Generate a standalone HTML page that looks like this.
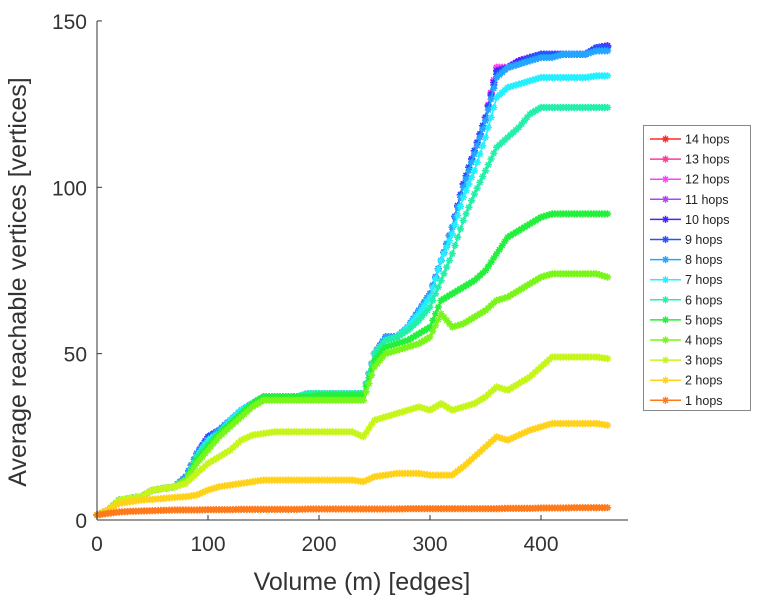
<!DOCTYPE html>
<html><head><meta charset="utf-8"><style>
body{margin:0;background:#fff;}
svg{display:block;font-family:"Liberation Sans",sans-serif;}
</style></head><body>
<svg id="chart" width="766" height="600" viewBox="0 0 766 600"></svg>
<script>
const xs=[0,10,20,30,40,50,60,70,80,90,100,110,120,130,140,150,160,170,180,190,200,210,220,230,240,250,260,270,280,290,300,310,320,330,340,350,360,370,380,390,400,410,420,430,440,450,460];
const seriesNames=["1 hops","2 hops","3 hops","4 hops","5 hops","6 hops","7 hops","8 hops","9 hops","10 hops","11 hops","12 hops","13 hops","14 hops"];
const s1=[1.5,2,2.4,2.6,2.7,2.8,2.9,3,3,3,3.1,3.1,3.1,3.2,3.2,3.2,3.2,3.2,3.2,3.3,3.3,3.3,3.3,3.3,3.3,3.3,3.3,3.3,3.4,3.4,3.4,3.4,3.4,3.4,3.4,3.4,3.4,3.5,3.5,3.5,3.6,3.6,3.6,3.7,3.7,3.7,3.7];
const s2=[1.5,3,5,5.5,6,6.2,6.5,6.8,7,7.5,9,10,10.5,11,11.5,12,12,12,12,12,12,12,12,12,11.5,13,13.5,14,14,14,13.5,13.5,13.5,16,19,22,25,24,25.5,27,28,29,29,29,29,29,28.5];
const s3=[1.5,3,6,6.5,7,9,9.5,10,11,14,17,19,21,24,25.5,26,26.5,26.5,26.5,26.5,26.5,26.5,26.5,26.5,25,30,31,32,33,34,33,35,33,34,35,37,40,39,41,43,46,49,49,49,49,49,48.5];
const s4=[1.5,3,6,6.5,7,9,9.5,10,12,17,21,25,28,31,34,36,36,36,36,36,36,36,36,36,36,46,50,51,52,53,55,62,58,59,61,63,66,67,69,71,73,74,74,74,74,74,73];
const s5=[1.5,3,6,6.5,7,9,9.5,10,12,18,22,26,29,32,35,37,37,37,37,37,37.5,37.5,37.5,37.5,37.5,48,52,53,54,56,58,66,68,70,72,75,80,85,87,89,91,92,92,92,92,92,92];
const s6=[1.5,3,6,6.5,7,9,9.5,10,12,19,23,26,29,32,35,37,37,37,37,38,38,38,38,38,38,50,54,55,57,60,64,72,80,90,98,105,112,115,118,122,124,124,124,124,124,124,124];
const s7=[1.5,3,6,6.5,7,9,9.5,10,12,19,24,26,30,33,35,37,37,37,37,38,38,38,38,38,38,50,54,55,58,62,67,78,86,97,105,115,127,130,131,132,133,133,133,133,133,133.5,133.5];
const s8=[1.5,3,6,6.5,7,9,9.5,10,13,20,24,27,30,33,35,37,37,37,37,38,38,38,38,38,38,50,55,55,58,63,68,78,88,100,110,120,133,136,137,138,139,139,140,140,140,141,141];
const s9=[1.5,3,6,6.5,7,9,9.5,10,13,20,25,27,30,33,35,37,37,37,37,38,38,38,38,38,38,50,55,55,58,63,68,78,88,101,111,121,134,136,137,139,140,140,140,140,140,142,142];
const s10=[1.5,3,6,6.5,7,9,9.5,10,13,20,25,27,30,33,35,37,37,37,37,38,38,38,38,38,38,50,55,55,58,63,68,78,88,101,111,121,135,136,138,139,140,140,140,140,140,142,142.5];
const s11=[1.5,3,6,6.5,7,9,9.5,10,13,20,25,27,30,33,35,37,37,37,37,38,38,38,38,38,38,50,55,55,58,63,68,78,88,101,111,121,135,136,138,139,140,140,140,140,140,142,142.5];
const s12=[1.5,3,6,6.5,7,9,9.5,10,13,20,25,27,30,33,35,37,37,37,37,38,38,38,38,38,38,50,55,55,58,63,68,78,88,101,111,121,136,136,138,139,140,140,140,140,140,142,142.5];
const s13=[1.5,3,6,6.5,7,9,9.5,10,13,20,25,27,30,33,35,37,37,37,37,38,38,38,38,38,38,50,55,55,58,63,68,78,88,101,111,121,136,136,138,139,140,140,140,140,140,142,142.5];
const s14=[1.5,3,6,6.5,7,9,9.5,10,13,20,25,27,30,33,35,37,37,37,37,38,38,38,38,38,38,50,55,55,58,63,68,78,88,101,111,121,136,136,138,139,140,140,140,140,140,142,142.5];
const xTicks=[0,100,200,300,400];
const yTicks=[0,50,100,150];
const colors=["#ff7a1a","#ffd21a","#c6f51a","#7af51a","#22f03a","#22f0a8","#22f0ff","#22a6ff","#2255ff","#4a22ff","#b240ff","#ff40ff","#ff3a9a","#ff2a2a"];
const all=[s1,s2,s3,s4,s5,s6,s7,s8,s9,s10,s11,s12,s13,s14];
const NS="http://www.w3.org/2000/svg";
const svg=document.getElementById('chart');
const X0=97,XS=1.11,Y0=520,YS=3.327;
const xp=v=>X0+v*XS, yp=v=>Y0-v*YS;
function mk(t,a,p){const e=document.createElementNS(NS,t);for(const k in a)e.setAttribute(k,a[k]);(p||svg).appendChild(e);return e;}
function star(cx,cy,r){let s='';[[0,1],[1,0],[0.7,0.7],[0.7,-0.7]].forEach(([a,b])=>{s+='M'+(cx-a*r).toFixed(1)+','+(cy-b*r).toFixed(1)+'L'+(cx+a*r).toFixed(1)+','+(cy+b*r).toFixed(1);});return s;}
for(let i=all.length-1;i>=0;i--){
  const g=mk('g',{});
  
  
  const d=all[i].map((v,j)=>(j?'L':'M')+xp(xs[j]).toFixed(1)+','+yp(v).toFixed(1)).join('');
  mk('path',{d:d,fill:'none',stroke:colors[i],'stroke-width':1.6},g);
  let md='';
  all[i].forEach((v,j)=>{
    const cx=xp(xs[j]),cy=yp(v);
    md+=star(cx,cy,3.6);
    if(j<all[i].length-1){
      const nx=xp(xs[j+1]),ny=yp(all[i][j+1]);
      for(let f=1;f<4;f++){md+=star(cx+(nx-cx)*f/4,cy+(ny-cy)*f/4,3.6);}
    }
  });
  mk('path',{d:md,fill:'none',stroke:colors[i],'stroke-width':1.5},g);
}
const ax=mk('g',{});


mk('line',{x1:X0,y1:21,x2:X0,y2:Y0,stroke:'#333','stroke-width':1},ax);
mk('line',{x1:X0,y1:Y0,x2:628,y2:Y0,stroke:'#333','stroke-width':1},ax);
xTicks.forEach(t=>{
  mk('line',{x1:xp(t),y1:Y0,x2:xp(t),y2:Y0-5,stroke:'#333'},ax);
  const tx=mk('text',{x:xp(t),y:Y0+31,'text-anchor':'middle','font-size':21,fill:'#333'},ax);
  
  
  tx.textContent=t;
});
yTicks.forEach(t=>{
  mk('line',{x1:X0,y1:yp(t),x2:X0+5,y2:yp(t),stroke:'#333'},ax);
  const tx=mk('text',{x:X0-10,y:yp(t)+8,'text-anchor':'end','font-size':21,fill:'#333'},ax);
  
  
  tx.textContent=t;
});
const xt=mk('text',{x:362,y:590,'text-anchor':'middle','font-size':25,fill:'#333'});


xt.textContent='Volume (m) [edges]';
const yt=mk('text',{x:0,y:0,'text-anchor':'middle','font-size':25,fill:'#333',transform:'translate(26,282) rotate(-90)'});


yt.textContent='Average reachable vertices [vertices]';
const lg=mk('g',{});


mk('rect',{x:643.5,y:125.5,width:107,height:285,fill:'#fff',stroke:'#888'},lg);
for(let k=0;k<14;k++){
  const i=13-k, y=139+k*20.1;
  const e=mk('g',{},lg);
  
  
  mk('line',{x1:650,y1:y,x2:681,y2:y,stroke:colors[i],'stroke-width':1.5},e);
  mk('path',{d:star(665.5,y,3.6),stroke:colors[i],'stroke-width':1.4,fill:'none'},e);
  const t=mk('text',{x:685,y:y+4.5,'font-size':12.5,fill:'#222'},e);
  t.textContent=seriesNames[i];
}
</script>
</body></html>
